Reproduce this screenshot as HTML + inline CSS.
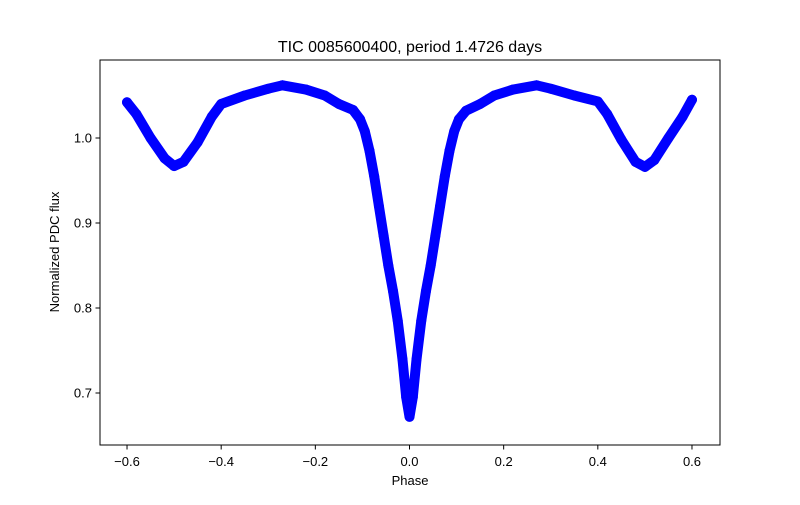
<!DOCTYPE html>
<html><head><meta charset="utf-8"><style>
body{margin:0;background:#fff;}
svg text{font-family:"Liberation Sans","DejaVu Sans",sans-serif;fill:#000;}
</style></head><body>
<svg id="chart" width="800" height="500" xmlns="http://www.w3.org/2000/svg">
<rect width="800" height="500" fill="#fff"/>
<text x="410" y="52" font-size="16" text-anchor="middle">TIC 0085600400, period 1.4726 days</text>
<g id="marks"></g>
<rect x="100" y="60" width="620" height="385" fill="none" stroke="#000" stroke-width="1"/>
<g id="xticks"></g>
<g id="yticks"></g>
<text x="410" y="485" font-size="13" text-anchor="middle">Phase</text>
<text x="0" y="0" font-size="13" text-anchor="middle" transform="translate(59,252) rotate(-90)">Normalized PDC flux</text>
</svg>
<script>
const phases = [-0.6,-0.58,-0.55,-0.52,-0.5,-0.48,-0.45,-0.42,-0.4,-0.35,-0.3,-0.27,-0.22,-0.18,-0.15,-0.12,-0.105,-0.095,-0.085,-0.075,-0.065,-0.055,-0.045,-0.035,-0.025,-0.015,-0.007,0,0.007,0.015,0.025,0.035,0.045,0.055,0.065,0.075,0.085,0.095,0.105,0.12,0.15,0.18,0.22,0.27,0.3,0.35,0.4,0.42,0.45,0.48,0.5,0.52,0.55,0.58,0.6];
const flux = [1.042,1.028,1.0,0.976,0.967,0.972,0.995,1.025,1.04,1.05,1.058,1.062,1.057,1.05,1.04,1.033,1.022,1.008,0.985,0.955,0.92,0.885,0.85,0.82,0.785,0.74,0.695,0.672,0.695,0.74,0.785,0.82,0.85,0.885,0.92,0.955,0.985,1.008,1.022,1.032,1.04,1.05,1.057,1.062,1.058,1.05,1.043,1.028,0.998,0.972,0.966,0.974,1.0,1.025,1.045];
const xTicks = [-0.6,-0.4,-0.2,0.0,0.2,0.4,0.6];
const xTickLabels = ["\u22120.6","\u22120.4","\u22120.2","0.0","0.2","0.4","0.6"];
const yTicks = [0.7,0.8,0.9,1.0];
const yTickLabels = ["0.7","0.8","0.9","1.0"];
const NS="http://www.w3.org/2000/svg";
const X = p => 409.5 + p*470.8;
const Y = f => 138 - (f-1)*850;
const marks=document.getElementById('marks');
const pl=document.createElementNS(NS,'polyline');
pl.setAttribute('points',phases.map((p,i)=>X(p)+','+Y(flux[i])).join(' '));
pl.setAttribute('fill','none');pl.setAttribute('stroke','#0000ff');
pl.setAttribute('stroke-width','10');pl.setAttribute('stroke-linejoin','round');pl.setAttribute('stroke-linecap','round');


marks.appendChild(pl);
phases.forEach((p,i)=>{
  const c=document.createElementNS(NS,'circle');
  c.setAttribute('cx',X(p));c.setAttribute('cy',Y(flux[i]));c.setAttribute('r',5);c.setAttribute('fill','#0000ff');
  
  
  marks.appendChild(c);
});
const xg=document.getElementById('xticks');
xTicks.forEach((t,i)=>{
  const l=document.createElementNS(NS,'line');
  l.setAttribute('x1',X(t));l.setAttribute('x2',X(t));l.setAttribute('y1',445);l.setAttribute('y2',449.5);l.setAttribute('stroke','#000');
  
  
  xg.appendChild(l);
  const tx=document.createElementNS(NS,'text');
  tx.setAttribute('x',X(t));tx.setAttribute('y',466);tx.setAttribute('font-size','13');tx.setAttribute('text-anchor','middle');
  tx.textContent=xTickLabels[i];
  
  
  xg.appendChild(tx);
});
const yg=document.getElementById('yticks');
yTicks.forEach((t,i)=>{
  const l=document.createElementNS(NS,'line');
  l.setAttribute('x1',95.5);l.setAttribute('x2',100);l.setAttribute('y1',Y(t));l.setAttribute('y2',Y(t));l.setAttribute('stroke','#000');
  
  
  yg.appendChild(l);
  const tx=document.createElementNS(NS,'text');
  tx.setAttribute('x',92);tx.setAttribute('y',Y(t)+4.5);tx.setAttribute('font-size','13');tx.setAttribute('text-anchor','end');
  tx.textContent=yTickLabels[i];
  
  
  yg.appendChild(tx);
});
</script>
</body></html>
